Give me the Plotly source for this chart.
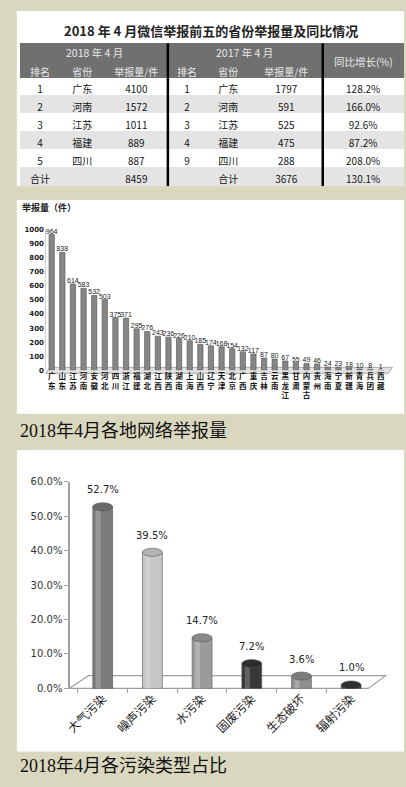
import plotly.graph_objects as go

W, H = 406, 787

# top table: provinces with most WeChat reports
rank_2018 = ["1", "2", "3", "4", "5", "合计"]
prov_2018 = ["广东", "河南", "江苏", "福建", "四川", ""]
count_2018 = [4100, 1572, 1011, 889, 887, 8459]
rank_2017 = ["1", "2", "3", "4", "9", ""]
prov_2017 = ["广东", "河南", "江苏", "福建", "四川", "合计"]
count_2017 = [1797, 591, 525, 475, 288, 3676]
growth = [128.2, 166.0, 92.6, 87.2, 208.0, 130.1]

# online reports by region
provinces = ["广东", "山东", "江苏", "河南", "安徽", "河北", "四川", "浙江",
             "福建", "湖北", "江西", "陕西", "湖南", "上海", "山西", "辽宁",
             "天津", "北京", "广西", "重庆", "吉林", "云南", "黑龙江", "甘肃",
             "内蒙古", "贵州", "海南", "宁夏", "新疆", "青海", "兵团", "西藏"]
reports = [964, 838, 614, 583, 532, 503, 375, 371, 295, 276, 243, 236, 226, 210,
           185, 174, 168, 154, 132, 117, 87, 80, 67, 55, 49, 46, 24, 23, 18, 10, 8, 1]

# pollution type share (%)
pollution = ["大气污染", "噪声污染", "水污染", "固废污染", "生态破坏", "辐射污染"]
share = [52.7, 39.5, 14.7, 7.2, 3.6, 1.0]
cyl_colors = ["#7c7c7c", "#c6c6c6", "#9b9b9b", "#383838", "#8e8e8e", "#3a3a3a"]
cap_colors = ["#6a6a6a", "#b4b4b4", "#8a8a8a", "#2c2c2c", "#7c7c7c", "#2e2e2e"]

BG = "#d9d8bf"
CJK = "Noto Sans CJK SC"
SERIF = "Liberation Serif, Noto Sans CJK SC"


def px(x):
    return x / W


def py(y):
    return 1 - y / H


fig = go.Figure()

# ---- table
row_fill = ["white", "#e4e4e4"] * 3
fig.add_trace(go.Table(
    domain=dict(x=[px(8), px(404)], y=[py(190), py(38)]),
    columnwidth=[40, 47, 65, 40, 45, 75, 84],
    header=dict(
        values=[["", "排名"], ["", "省份"], ["", "举报量/件"],
                ["", "排名"], ["", "省份"], ["", "举报量/件"], ["", ""]],
        fill_color="#707070", line_color="#707070", height=17,
        font=dict(family=CJK, size=10, color="#e8e8e8"), align="center",
    ),
    cells=dict(
        values=[rank_2018, prov_2018, count_2018, rank_2017, prov_2017, count_2017,
                [f"{g:.1f}%" for g in growth]],
        fill_color=[row_fill], line_color=[row_fill], height=18,
        font=dict(family=CJK, size=10, color="#151515"),
        align="center",
    ),
))

# ---- province bar chart
fig.add_trace(go.Bar(
    x=["<br>".join(p) for p in provinces], y=reports,
    xaxis="x", yaxis="y", width=0.5,
    marker=dict(color="#868686", line=dict(color="#505050", width=0.6)),
    text=reports, textposition="outside", constraintext="none", cliponaxis=False,
    textfont=dict(family="Liberation Sans Narrow, Liberation Sans", size=7, color="#222"),
    showlegend=False,
))

# ---- pollution cylinders
fig.add_trace(go.Bar(
    x=pollution, y=share, xaxis="x2", yaxis="y2", width=0.4,
    marker=dict(color=cyl_colors, line=dict(color="#555", width=0.6)),
    showlegend=False,
))
fig.add_trace(go.Bar(
    x=pollution, y=share, xaxis="x2", yaxis="y2", width=0.1, offset=-0.14,
    marker=dict(color="rgba(255,255,255,0.22)", line=dict(width=0)),
    showlegend=False, hoverinfo="skip",
))

shapes = []
# white panels
for y0, y1 in [(5, 183), (197, 414), (451, 757)]:
    shapes.append(dict(type="rect", xref="paper", yref="paper", layer="below",
                       x0=px(4), x1=px(404), y0=py(y1), y1=py(y0),
                       fillcolor="white", line=dict(width=0)))
# table dividers
for xv in (160, 320):
    shapes.append(dict(type="line", xref="paper", yref="paper", layer="above",
                       x0=px(xv), x1=px(xv), y0=py(183), y1=py(38),
                       line=dict(color="black", width=2.5)))
# beige gap cropping the last table row
shapes.append(dict(type="rect", xref="paper", yref="paper", layer="above",
                   x0=0, x1=1, y0=py(197), y1=py(183),
                   fillcolor=BG, line=dict(width=0)))
# bar chart floor
shapes.append(dict(type="path", xref="paper", yref="paper", layer="below",
                   path=f"M {px(34)},{py(373)} L {px(38)},{py(367)} L {px(392)},{py(367)} "
                        f"L {px(388)},{py(373)} Z",
                   fillcolor="#e2e2e2", line=dict(color="#999", width=0.8)))
# cylinder chart floor
shapes.append(dict(type="path", xref="paper", yref="paper", layer="below",
                   path=f"M {px(58)},{py(693)} L {px(78)},{py(680)} L {px(385)},{py(680)} "
                        f"L {px(367)},{py(693)} Z",
                   fillcolor="white", line=dict(color="#a0a0a0", width=1.2)))
# cylinder caps
for i, v in enumerate(share):
    for yv, col in ((0, cyl_colors[i]), (v, cap_colors[i])):
        shapes.append(dict(type="circle", xref="x2", yref="y2", ysizemode="pixel",
                           yanchor=yv, y0=-4, y1=4, x0=i - 0.2, x1=i + 0.2,
                           layer="below" if yv == 0 else "above",
                           fillcolor=col, line=dict(color="#555", width=0.6)))

annotations = [
    dict(text="<b>2018 年 4 月微信举报前五的省份举报量及同比情况</b>", x=px(205), y=py(25),
         font=dict(family=CJK, size=13, color="#222")),
    dict(text="2018 年 4 月", x=px(84), y=py(47), font=dict(family=CJK, size=10.5, color="#e8e8e8")),
    dict(text="2017 年 4 月", x=px(239), y=py(47), font=dict(family=CJK, size=10.5, color="#e8e8e8")),
    dict(text="同比增长(%)", x=px(362), y=py(56), font=dict(family=CJK, size=10.5, color="#e8e8e8")),
    dict(text="<b>举报量（件）</b>", x=px(7), y=py(205), xanchor="left",
         font=dict(family=CJK, size=9, color="#222")),
    dict(text="2018年4月各地网络举报量", x=px(5), y=py(432), xanchor="left",
         font=dict(family=SERIF, size=18, color="#111")),
    dict(text="2018年4月各污染类型占比", x=px(5), y=py(772), xanchor="left",
         font=dict(family=SERIF, size=18, color="#111")),
]
for a in annotations:
    a.setdefault("xanchor", "center")
    a.update(xref="paper", yref="paper", showarrow=False, yanchor="middle")
for i, v in enumerate(share):
    annotations.append(dict(text=f"{v:.1f}%", x=i, y=v, xref="x2", yref="y2",
                            showarrow=False, yshift=17,
                            font=dict(family="DejaVu Sans", size=10, color="#222")))

fig.update_layout(
    width=W, height=H, autosize=False,
    margin=dict(l=0, r=0, t=0, b=0),
    paper_bgcolor=BG, plot_bgcolor="rgba(0,0,0,0)",
    barmode="overlay", bargap=0.5,
    shapes=shapes, annotations=annotations,
    xaxis=dict(domain=[px(34.5), px(385.5)], anchor="y", showgrid=False,
               showline=False, zeroline=False, ticks="",
               tickfont=dict(family=CJK, size=7.5, color="#111", weight="bold")),
    yaxis=dict(domain=[py(370), py(227)], anchor="x", range=[0, 1000], dtick=100,
               showgrid=False, zeroline=False, showline=True, linecolor="#d0d0d0",
               ticks="", tickfont=dict(family="DejaVu Sans", size=7, color="#222", weight="bold")),
    xaxis2=dict(domain=[px(67), px(375)], anchor="y2", showgrid=False,
                showline=False, zeroline=False, tickangle=-45,
                ticks="outside", tickson="boundaries", ticklen=4, tickcolor="#a0a0a0",
                tickfont=dict(family=SERIF, size=12, color="#222")),
    yaxis2=dict(domain=[py(693), py(483)], anchor="free", position=px(58),
                range=[0, 60], dtick=10, tickformat=".1f", ticksuffix="%",
                showgrid=False, zeroline=False, showline=True, linecolor="#a0a0a0",
                linewidth=1.5, ticks="outside", ticklen=4, tickcolor="#a0a0a0",
                tickfont=dict(family="DejaVu Sans", size=10, color="#333")),
)

fig.write_html("out.html", config={"displayModeBar": False},
               post_script="document.body.style.margin='0';")
